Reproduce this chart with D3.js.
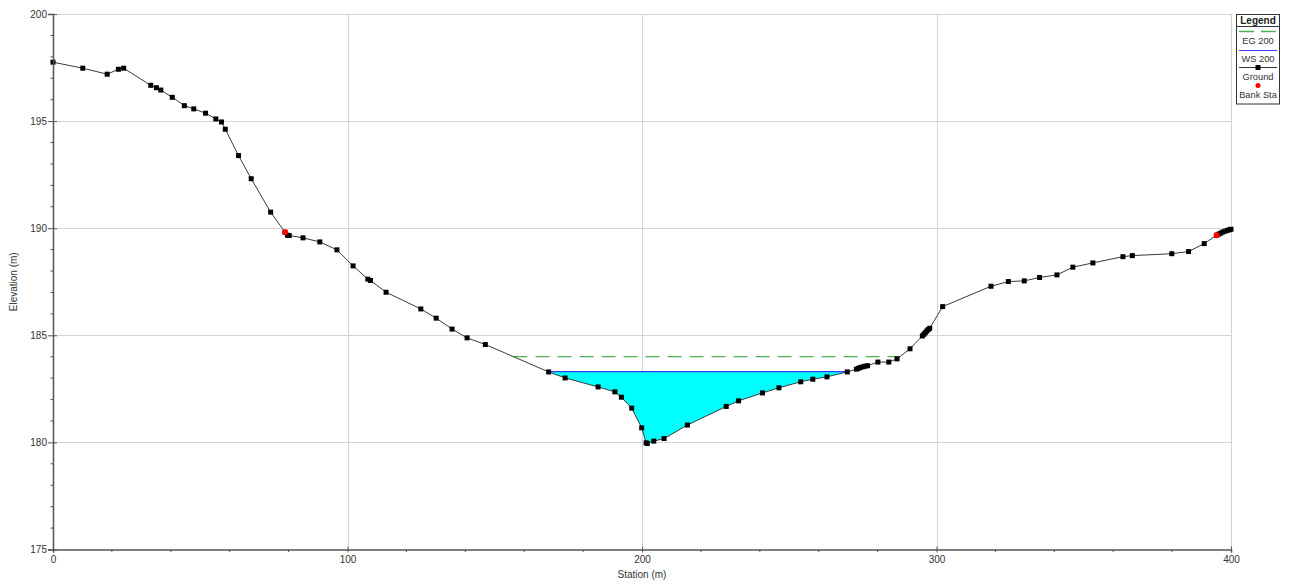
<!DOCTYPE html>
<html>
<head>
<meta charset="utf-8">
<script src="https://cdn.jsdelivr.net/npm/d3@7"></script>
<style>
  html, body { margin: 0; padding: 0; background: #fff; }
  svg { display: block; font-family: "Liberation Sans", Arial, sans-serif; }
</style>
</head>
<body>
<svg id="chart" width="1290" height="586"></svg>
<script>
// ---- Data ----
const groundStation = [0, 10.1, 18.4, 22.2, 24.0, 33.2, 35.1, 36.6, 40.5, 44.6, 47.8, 51.8, 55.3, 57.2, 58.5, 63.0, 67.3, 73.9, 78.8, 79.6, 80.2, 84.9, 90.6, 96.4, 101.9, 106.9, 107.8, 113.1, 124.9, 130.1, 135.5, 140.6, 146.8, 168.3, 173.9, 185.1, 190.8, 193.0, 196.5, 199.9, 201.4, 201.8, 204.0, 207.5, 215.4, 228.6, 232.8, 240.9, 246.5, 253.9, 258.0, 262.8, 269.7, 272.8, 273.5, 274.2, 275.0, 275.8, 276.6, 280.1, 283.8, 286.6, 291.0, 295.2, 295.7, 296.2, 296.7, 297.2, 297.7, 302.1, 318.5, 324.4, 329.8, 335.0, 340.9, 346.3, 353.1, 363.3, 366.5, 379.9, 385.6, 390.9, 395.1, 395.8, 396.5, 397.2, 398.0, 398.8, 399.5, 400.0];
const groundElev = [197.75, 197.47, 197.19, 197.42, 197.47, 196.67, 196.56, 196.45, 196.11, 195.72, 195.57, 195.37, 195.10, 194.96, 194.62, 193.39, 192.31, 190.75, 189.81, 189.67, 189.66, 189.55, 189.36, 188.99, 188.24, 187.62, 187.56, 187.01, 186.23, 185.80, 185.29, 184.88, 184.57, 183.29, 183.01, 182.59, 182.36, 182.11, 181.60, 180.68, 179.98, 179.95, 180.06, 180.18, 180.81, 181.68, 181.94, 182.31, 182.55, 182.83, 182.95, 183.06, 183.29, 183.42, 183.46, 183.50, 183.53, 183.56, 183.58, 183.75, 183.75, 183.90, 184.37, 184.97, 185.05, 185.12, 185.20, 185.27, 185.33, 186.34, 187.29, 187.51, 187.54, 187.70, 187.82, 188.18, 188.38, 188.67, 188.72, 188.81, 188.91, 189.28, 189.67, 189.72, 189.77, 189.82, 189.86, 189.90, 189.93, 189.95];
const bankStation = [78.8, 395.1];
const bankElev = [189.81, 189.67];
const egElev = 184.0;   // EG 200
const wsElev = 183.3;   // WS 200
const xTicks = [0, 100, 200, 300, 400];
const yTicks = [175, 180, 185, 190, 195, 200];
const legendLabels = ["EG 200", "WS 200", "Ground", "Bank Sta"];

// ---- Layout ----
const svg = d3.select("#chart");
const x = d3.scaleLinear().domain([0, 400]).range([53, 1231]);
const y = d3.scaleLinear().domain([175, 200]).range([549.5, 14]);
const textCol = "#333";
const gridCol = "#d4d4d4";

const ground = groundStation.map((s, i) => ({ s, e: groundElev[i] }));

// gridlines
svg.append("g").selectAll("line.gx").data(xTicks.slice(1)).join("line")
  .attr("x1", d => Math.round(x(d)) + 0.5).attr("x2", d => Math.round(x(d)) + 0.5)
  .attr("y1", y(200)).attr("y2", y(175))
  .attr("stroke", gridCol).attr("stroke-width", 1);
svg.append("g").selectAll("line.gy").data(yTicks.slice(1)).join("line")
  .attr("x1", x(0)).attr("x2", x(400))
  .attr("y1", d => Math.round(y(d)) + 0.5).attr("y2", d => Math.round(y(d)) + 0.5)
  .attr("stroke", gridCol).attr("stroke-width", 1);

// intersections of a level with ground
function crossings(level) {
  const out = [];
  for (let i = 0; i < ground.length - 1; i++) {
    const a = ground[i], b = ground[i + 1];
    if ((a.e - level) * (b.e - level) <= 0 && a.e !== b.e) {
      const t = (level - a.e) / (b.e - a.e);
      out.push({ s: a.s + t * (b.s - a.s), i });
    }
  }
  return out;
}

// water fill
const wc = crossings(wsElev);
const wl = wc[0], wr = wc[wc.length - 1];
const waterPts = [{ s: wl.s, e: wsElev }]
  .concat(ground.filter(p => p.s > wl.s && p.s < wr.s))
  .concat([{ s: wr.s, e: wsElev }]);
svg.append("path")
  .attr("d", d3.line().x(p => x(p.s)).y(p => y(p.e))(waterPts) + "Z")
  .attr("fill", "#00ffff").attr("stroke", "none");
svg.append("line")
  .attr("x1", x(wl.s)).attr("x2", x(wr.s))
  .attr("y1", y(wsElev)).attr("y2", y(wsElev))
  .attr("stroke", "#3a3aff").attr("stroke-width", 1.2);

// EG line
const ec = crossings(egElev);
svg.append("line")
  .attr("x1", x(ec[0].s)).attr("x2", x(ec[ec.length - 1].s))
  .attr("y1", y(egElev)).attr("y2", y(egElev))
  .attr("stroke", "#4caf50").attr("stroke-width", 1.2)
  .attr("stroke-dasharray", "14,8");

// ground line and markers
svg.append("path")
  .attr("d", d3.line().x(p => x(p.s)).y(p => y(p.e))(ground))
  .attr("fill", "none").attr("stroke", "#3a3a3a").attr("stroke-width", 1);
svg.append("g").selectAll("rect").data(ground).join("rect")
  .attr("x", p => x(p.s) - 2.5).attr("y", p => y(p.e) - 2.5)
  .attr("width", 5).attr("height", 5).attr("fill", "#000");

// bank stations
svg.append("g").selectAll("circle").data(bankStation).join("circle")
  .attr("cx", (d) => x(d)).attr("cy", (d, i) => y(bankElev[i])).attr("r", 3)
  .attr("fill", "#ff0000");

// axes
const xAxis = svg.append("g").attr("transform", `translate(0,${y(175)})`)
  .call(d3.axisBottom(x).tickValues(xTicks).tickSize(3).tickPadding(3).tickFormat(d3.format("d")));
const yAxis = svg.append("g").attr("transform", `translate(${x(0)},0)`)
  .call(d3.axisLeft(y).tickValues(yTicks).tickSize(5).tickPadding(2).tickFormat(d3.format("d")));
[xAxis, yAxis].forEach(g => {
  g.select(".domain").attr("stroke", "#555").attr("stroke-width", 1.5);
  g.selectAll(".tick line").attr("stroke", "#555");
  g.selectAll(".tick text").attr("fill", textCol).attr("font-size", 10)
    .attr("font-family", "Liberation Sans, Arial, sans-serif");
});
yAxis.selectAll(".tick line").attr("x2", 4).attr("x1", -5);
yAxis.selectAll(".tick text").attr("x", -6);
xAxis.selectAll(".tick line").attr("y1", -3).attr("y2", 3);
// minor ticks
const xMinor = d3.range(0, 401, 20).filter(v => v % 100 !== 0);
svg.append("g").selectAll("line").data(xMinor).join("line")
  .attr("x1", d => x(d)).attr("x2", d => x(d)).attr("y1", y(175)).attr("y2", y(175) + 2.5)
  .attr("stroke", "#555");
const yMinor = d3.range(175, 201, 1).filter(v => v % 5 !== 0);
svg.append("g").selectAll("line").data(yMinor).join("line")
  .attr("x1", x(0) - 2.5).attr("x2", x(0)).attr("y1", d => y(d)).attr("y2", d => y(d))
  .attr("stroke", "#555");

// axis titles
svg.append("text").attr("x", (x(0) + x(400)) / 2).attr("y", 578)
  .attr("text-anchor", "middle").attr("font-size", 10).attr("fill", textCol)
  .text("Station (m)");
svg.append("text").attr("transform", `translate(17,${(y(175) + y(200)) / 2}) rotate(-90)`)
  .attr("text-anchor", "middle").attr("font-size", 10).attr("fill", textCol)
  .text("Elevation (m)");

// legend
const lg = svg.append("g");
lg.append("rect").attr("x", 1236.5).attr("y", 14.5).attr("width", 43).attr("height", 89.5)
  .attr("fill", "#fff").attr("stroke", "#333").attr("stroke-width", 1);
lg.append("text").attr("x", 1258).attr("y", 23.5).attr("text-anchor", "middle")
  .attr("font-size", 10).attr("font-weight", "bold").attr("fill", "#222").text("Legend");
lg.append("line").attr("x1", 1236.5).attr("x2", 1279.5).attr("y1", 26.5).attr("y2", 26.5)
  .attr("stroke", "#333");
lg.append("line").attr("x1", 1239).attr("x2", 1276).attr("y1", 31.5).attr("y2", 31.5)
  .attr("stroke", "#4caf50").attr("stroke-width", 1.4).attr("stroke-dasharray", "15,7");
lg.append("line").attr("x1", 1239).attr("x2", 1277).attr("y1", 50.5).attr("y2", 50.5)
  .attr("stroke", "#3a3aff").attr("stroke-width", 1.2);
lg.append("line").attr("x1", 1239).attr("x2", 1277).attr("y1", 67.5).attr("y2", 67.5)
  .attr("stroke", "#333").attr("stroke-width", 1);
lg.append("rect").attr("x", 1255.5).attr("y", 65).attr("width", 5).attr("height", 5).attr("fill", "#000");
lg.append("circle").attr("cx", 1258).attr("cy", 85.5).attr("r", 2.5).attr("fill", "#ff0000");
const legendY = [43.5, 61.5, 80, 98];
lg.selectAll("text.item").data(legendLabels).join("text").attr("class", "item")
  .attr("x", 1258).attr("y", (d, i) => legendY[i]).attr("text-anchor", "middle")
  .attr("font-size", 9.3).attr("fill", "#333").text(d => d);
</script>
</body>
</html>
